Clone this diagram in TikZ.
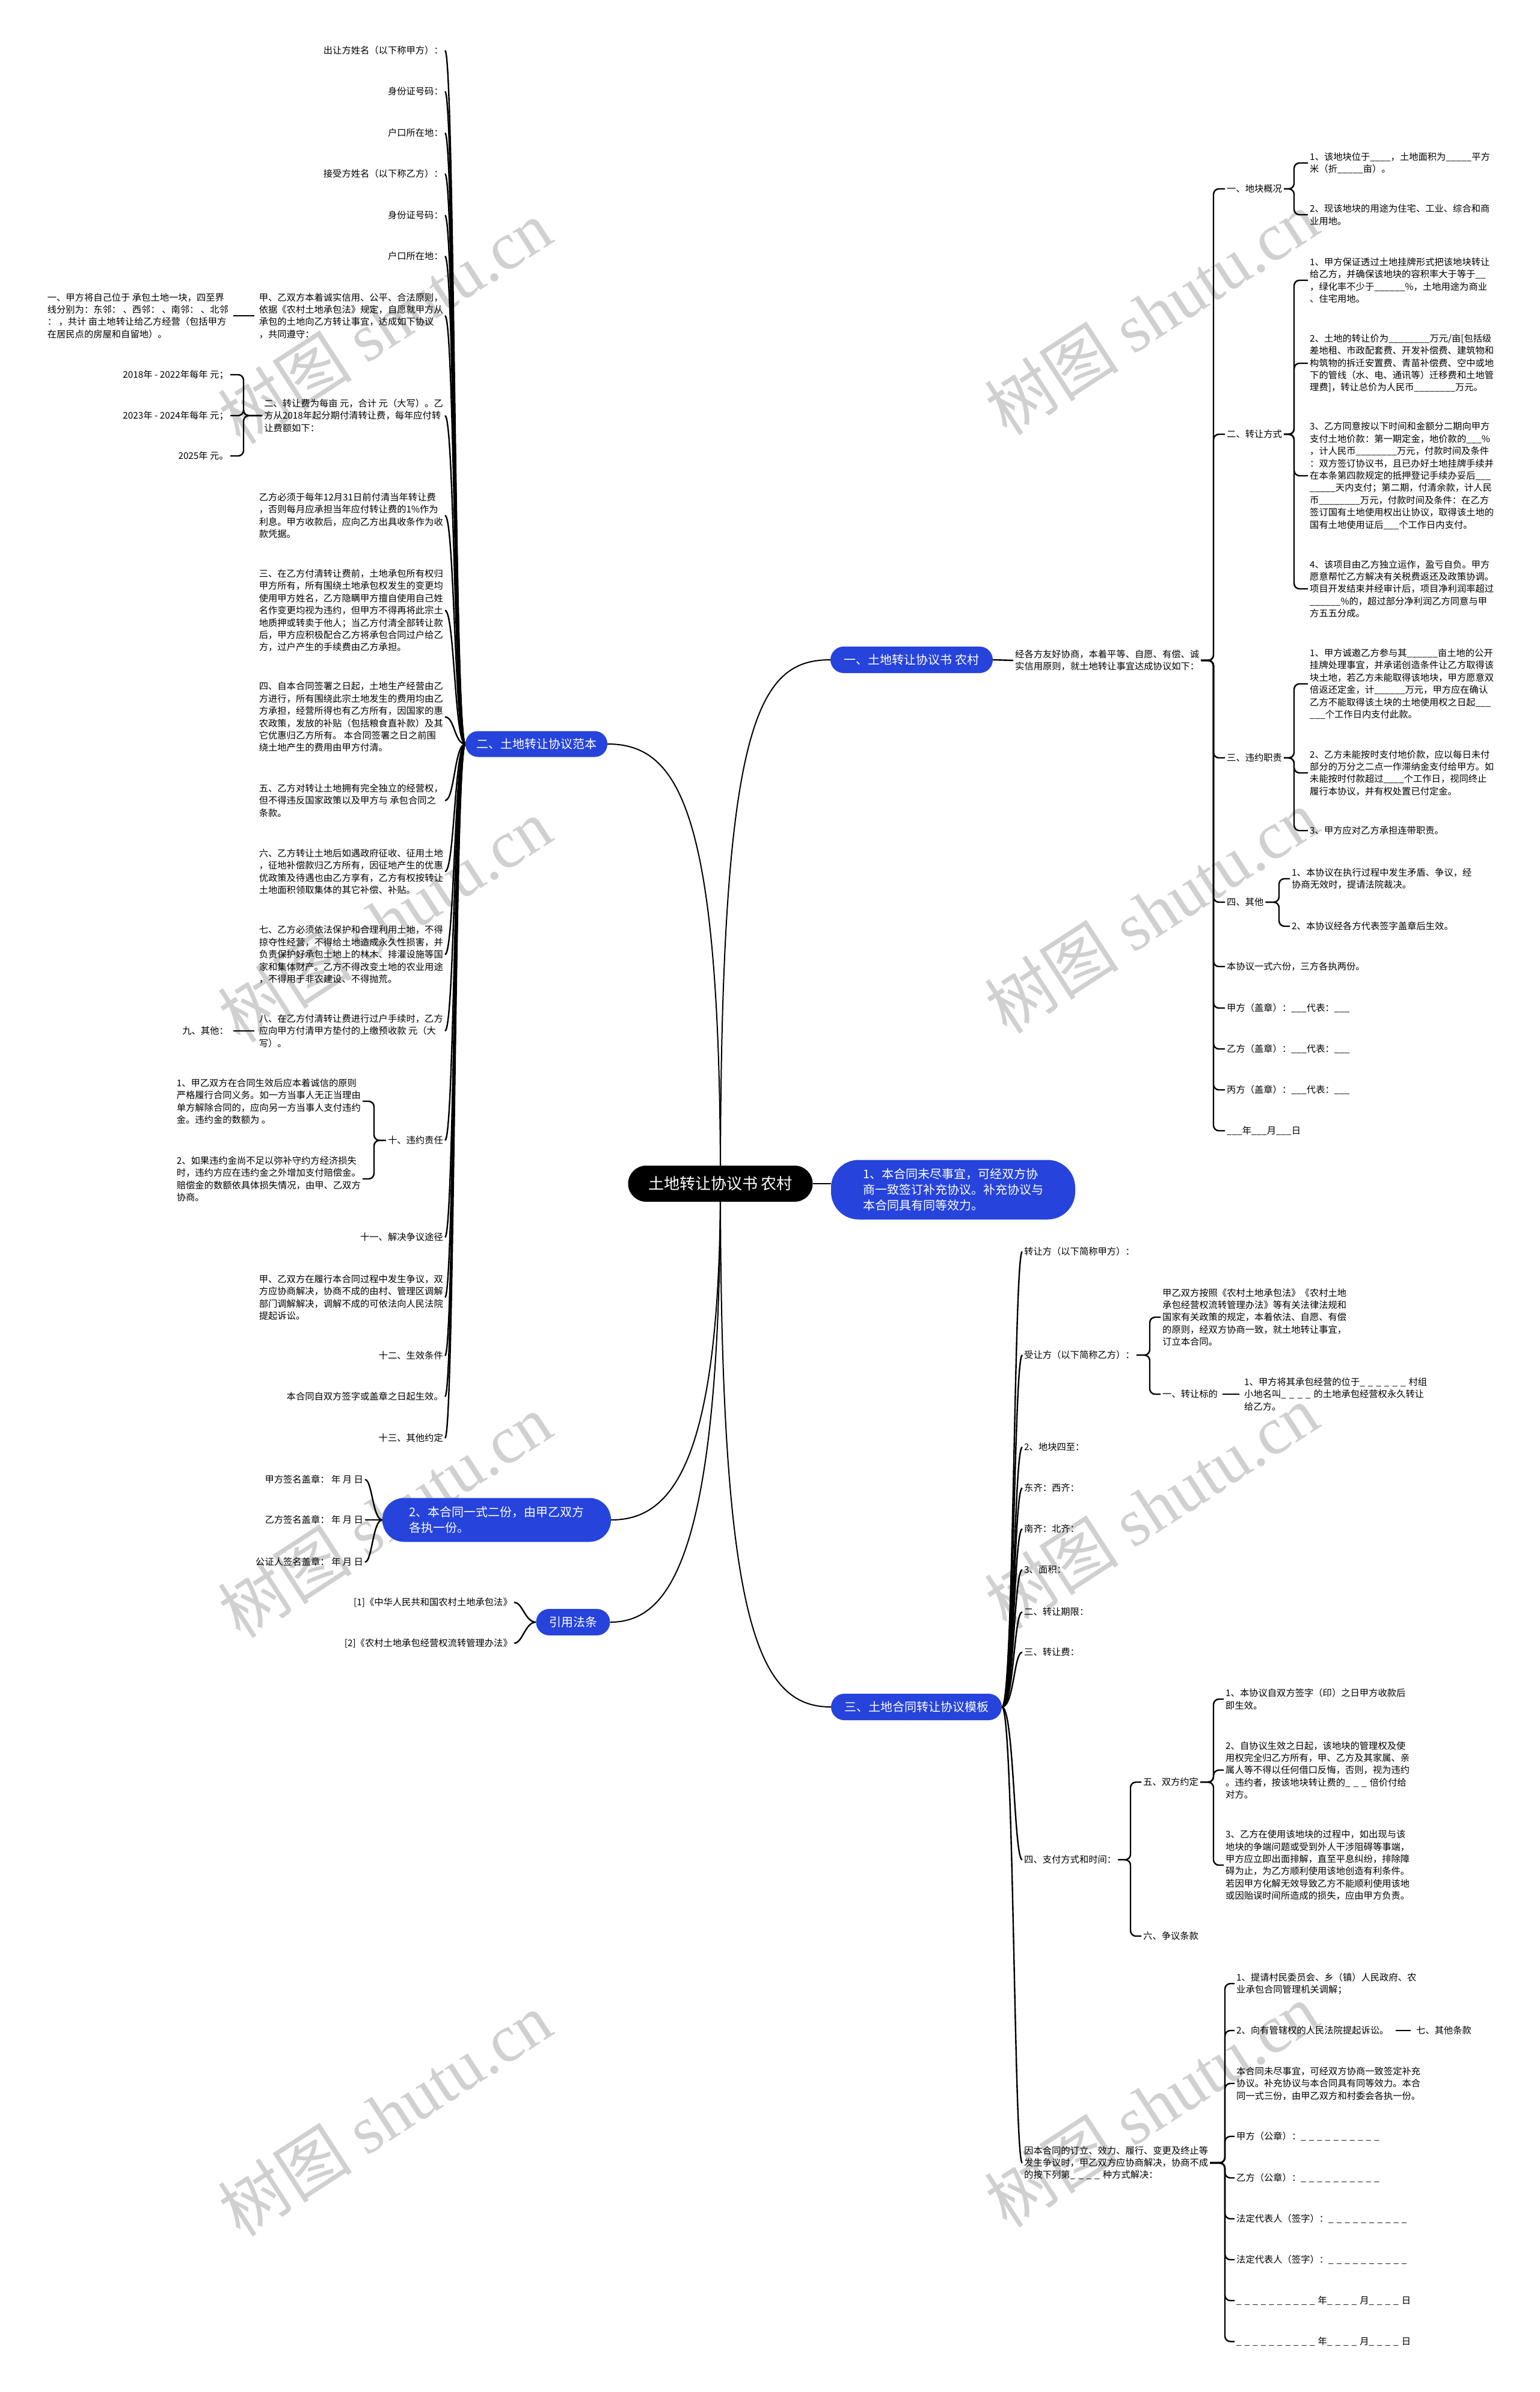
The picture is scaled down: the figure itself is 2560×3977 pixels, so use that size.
\documentclass[tikz,border=0pt]{standalone}
\usepackage{fontspec}
\setmainfont{Noto Sans CJK SC}
\newfontfamily\wmserif{Liberation Serif}
\usetikzlibrary{calc}
\definecolor{bblue}{RGB}{38,67,220}
\definecolor{wmgray}{RGB}{208,208,208}
\pgfdeclarelayer{wml}
\pgfdeclarelayer{bgl}
\pgfsetlayers{wml,bgl,main}
\newcommand\dd{\_\hspace{5pt}}
\begin{document}
\begin{tikzpicture}[x=1pt,y=-1pt,
  lnk/.style={line width=2.4pt,draw=black},
  rlnk/.style={lnk,rounded corners=9pt},
  tx/.style={font=\fontsize{15.3}{20.4}\selectfont,inner sep=3pt,align=left},
  txl/.style={tx,anchor=east},
  txr/.style={tx,anchor=west},
  bn/.style={fill=bblue,text=white,font=\fontsize{20}{26}\selectfont,align=left,inner sep=0pt},
  wm/.style={text=wmgray,rotate=33,inner sep=0pt}]
\useasboundingbox (0,0) rectangle (2560,3977);

% background and watermarks
\begin{pgfonlayer}{wml}
\fill[white] (0,0) rectangle (2560,3977);
\foreach \i/\x/\y in {1/640/535,2/1915/520,3/640/1530,4/1915/1515,5/640/2520,6/1915/2505,7/640/3515,8/1915/3500}{
  \node[wm] (wm\i) at (\x,\y) {\fontsize{112}{112}\selectfont 树图 {\wmserif shutu.cn}};
}
\end{pgfonlayer}

% main nodes
\node[bn,fill=black,font=\fontsize{26}{30}\selectfont,minimum width=307pt,minimum height=60pt,rounded corners=30pt] (root) at (1198,1968) {土地转让协议书 农村};
\node[bn,minimum width=270pt,minimum height=44pt,rounded corners=22pt] (b1) at (1516,1097) {一、土地转让协议书 农村};
\node[bn,minimum width=406pt,minimum height=99pt,rounded corners=46pt] (bm) at (1585,1978) {1、本合同未尽事宜，可经双方协\\商一致签订补充协议。补充协议与\\本合同具有同等效力。};
\node[bn,minimum width=284pt,minimum height=44pt,rounded corners=22pt] (b3) at (1524,2838) {三、土地合同转让协议模板};
\node[bn,minimum width=236pt,minimum height=43pt,rounded corners=21pt] (b2) at (892,1237) {二、土地转让协议范本};
\node[bn,minimum width=380pt,minimum height=73pt,rounded corners=36pt] (bs) at (826,2527) {2、本合同一式二份，由甲乙双方\\各执一份。};
\node[bn,minimum width=123pt,minimum height=44pt,rounded corners=22pt] (bref) at (953,2697) {引用法条};

% ---------------- left branch: 二、土地转让协议范本
\node[txl] (l1) at (740,84) {出让方姓名（以下称甲方）：};
\node[txl] (l2) at (740,152) {身份证号码：};
\node[txl] (l3) at (740,221) {户口所在地：};
\node[txl] (l4) at (740,289) {接受方姓名（以下称乙方）：};
\node[txl] (l5) at (740,358) {身份证号码：};
\node[txl] (l6) at (740,426) {户口所在地：};
\node[txl] (l7) at (740,525) {甲、乙双方本着诚实信用、公平、合法原则，\\依据《农村土地承包法》规定，自愿就甲方从\\承包的土地向乙方转让事宜，达成如下协议\\，共同遵守：};
\node[txl] (l8) at (740,691) {二、转让费为每亩 元，合计 元（大写）。乙\\方从2018年起分期付清转让费，每年应付转\\让费额如下：};
\node[txl] (l9) at (740,857) {乙方必须于每年12月31日前付清当年转让费\\，否则每月应承担当年应付转让费的1\%作为\\利息。甲方收款后，应向乙方出具收条作为收\\款凭据。};
\node[txl] (l10) at (740,1015) {三、在乙方付清转让费前，土地承包所有权归\\甲方所有，所有围绕土地承包权发生的变更均\\使用甲方姓名，乙方隐瞒甲方擅自使用自己姓\\名作变更均视为违约，但甲方不得再将此宗土\\地质押或转卖于他人；当乙方付清全部转让款\\后，甲方应积极配合乙方将承包合同过户给乙\\方，过户产生的手续费由乙方承担。};
\node[txl] (l11) at (740,1192) {四、自本合同签署之日起，土地生产经营由乙\\方进行，所有围绕此宗土地发生的费用均由乙\\方承担，经营所得也有乙方所有，因国家的惠\\农政策，发放的补贴（包括粮食直补款）及其\\它优惠归乙方所有。 本合同签署之日之前围\\绕土地产生的费用由甲方付清。};
\node[txl] (l12) at (740,1331) {五、乙方对转让土地拥有完全独立的经营权，\\但不得违反国家政策以及甲方与 承包合同之\\条款。};
\node[txl] (l13) at (740,1449) {六、乙方转让土地后如遇政府征收、征用土地\\，征地补偿款归乙方所有，因征地产生的优惠\\优政策及待遇也由乙方享有，乙方有权按转让\\土地面积领取集体的其它补偿、补贴。};
\node[txl] (l14) at (740,1587) {七、乙方必须依法保护和合理利用土地，不得\\掠夺性经营，不得给土地造成永久性损害，并\\负责保护好承包土地上的林木、排灌设施等国\\家和集体财产。乙方不得改变土地的农业用途\\，不得用于非农建设、不得抛荒。};
\node[txl] (l15) at (740,1714) {八、在乙方付清转让费进行过户手续时，乙方\\应向甲方付清甲方垫付的上缴预收款 元（大\\写）。};
\node[txl] (l16) at (740,1896) {十、违约责任};
\node[txl] (l17) at (740,2057) {十一、解决争议途径};
\node[txl] (l18) at (740,2157) {甲、乙双方在履行本合同过程中发生争议，双\\方应协商解决，协商不成的由村、管理区调解\\部门调解解决，调解不成的可依法向人民法院\\提起诉讼。};
\node[txl] (l19) at (740,2254) {十二、生效条件};
\node[txl] (l20) at (740,2322) {本合同自双方签字或盖章之日起生效。};
\node[txl] (l21) at (740,2391) {十三、其他约定};

\node[txl] (lB) at (383,525) {一、甲方将自己位于 承包土地一块，四至界\\线分别为：东邻： 、西邻： 、南邻： 、北邻\\： ，共计 亩土地转让给乙方经营（包括甲方\\在居民点的房屋和自留地）。};
\node[txl] (y1) at (383,623) {2018年 - 2022年每年 元；};
\node[txl] (y2) at (383,691) {2023年 - 2024年每年 元；};
\node[txl] (y3) at (383,758) {2025年 元。};
\node[txl] (l9b) at (383,1714) {九、其他：};
\node[txl] (K) at (603,1831) {1、甲乙双方在合同生效后应本着诚信的原则\\严格履行合同义务。如一方当事人无正当理由\\单方解除合同的，应向另一方当事人支付违约\\金。违约金的数额为 。};
\node[txl] (L) at (603,1960) {2、如果违约金尚不足以弥补守约方经济损失\\时，违约方应在违约金之外增加支付赔偿金。\\赔偿金的数额依具体损失情况，由甲、乙双方\\协商。};

\node[txl] (sg1) at (607,2460) {甲方签名盖章： 年 月 日};
\node[txl] (sg2) at (607,2527) {乙方签名盖章： 年 月 日};
\node[txl] (sg3) at (607,2597) {公证人签名盖章： 年 月 日};
\node[txl] (ref1) at (855,2664) {[1]《中华人民共和国农村土地承包法》};
\node[txl] (ref2) at (855,2732) {[2]《农村土地承包经营权流转管理办法》};

% ---------------- right top
\node[txr] (R1) at (1685,1098) {经各方友好协商，本着平等、自愿、有偿、诚\\实信用原则，就土地转让事宜达成协议如下：};
\node[txr] (rk1) at (2037,314) {一、地块概况};
\node[txr] (rk2) at (2037,722) {二、转让方式};
\node[txr] (rk3) at (2037,1260) {三、违约职责};
\node[txr] (rk4) at (2037,1500) {四、其他};
\node[txr] (rk5) at (2037,1607) {本协议一式六份，三方各执两份。};
\node[txr] (rk6) at (2037,1676) {甲方（盖章）：\_\_\_代表：\_\_\_};
\node[txr] (rk7) at (2037,1744) {乙方（盖章）：\_\_\_代表：\_\_\_};
\node[txr] (rk8) at (2037,1812) {丙方（盖章）：\_\_\_代表：\_\_\_};
\node[txr] (rk9) at (2037,1880) {\_\_\_年\_\_\_月\_\_\_日};

\node[txr] (r11) at (2175,271) {1、该地块位于\_\_\_\_，土地面积为\_\_\_\_\_平方\\米（折\_\_\_\_\_亩）。};
\node[txr] (r12) at (2175,357) {2、现该地块的用途为住宅、工业、综合和商\\业用地。};
\node[txr] (r21) at (2175,466) {1、甲方保证透过土地挂牌形式把该地块转让\\给乙方，并确保该地块的容积率大于等于\_\_\\，绿化率不少于\_\_\_\_\_\_\%，土地用途为商业\\、住宅用地。};
\node[txr] (r22) at (2175,604) {2、土地的转让价为\_\_\_\_\_\_\_\_万元/亩[包括级\\差地租、市政配套费、开发补偿费、建筑物和\\构筑物的拆迁安置费、青苗补偿费、空中或地\\下的管线（水、电、通讯等）迁移费和土地管\\理费]，转让总价为人民币\_\_\_\_\_\_\_\_万元。};
\node[txr] (r23) at (2175,791) {3、乙方同意按以下时间和金额分二期向甲方\\支付土地价款：第一期定金，地价款的\_\_\_\%\\，计人民币\_\_\_\_\_\_\_\_万元，付款时间及条件\\：双方签订协议书，且已办好土地挂牌手续并\\在本条第四款规定的抵押登记手续办妥后\_\_\_\\\_\_\_\_\_天内支付；第二期，付清余款，计人民\\币\_\_\_\_\_\_\_\_万元，付款时间及条件：在乙方\\签订国有土地使用权出让协议，取得该土地的\\国有土地使用证后\_\_\_个工作日内支付。};
\node[txr] (r24) at (2175,979) {4、该项目由乙方独立运作，盈亏自负。甲方\\愿意帮忙乙方解决有关税费返还及政策协调。\\项目开发结束并经审计后，项目净利润率超过\\\_\_\_\_\_\_\%的，超过部分净利润乙方同意与甲\\方五五分成。};
\node[txr] (r31) at (2175,1137) {1、甲方诚邀乙方参与其\_\_\_\_\_\_亩土地的公开\\挂牌处理事宜，并承诺创造条件让乙方取得该\\块土地，若乙方未能取得该地块，甲方愿意双\\倍返还定金，计\_\_\_\_\_\_万元，甲方应在确认\\乙方不能取得该土块的土地使用权之日起\_\_\_\\\_\_\_个工作日内支付此款。};
\node[txr] (r32) at (2175,1285) {2、乙方未能按时支付地价款，应以每日未付\\部分的万分之二点一作滞纳金支付给甲方。如\\未能按时付款超过\_\_\_\_个工作日，视同终止\\履行本协议，并有权处置已付定金。};
\node[txr] (r33) at (2175,1381) {3、甲方应对乙方承担连带职责。};
\node[txr] (r41) at (2145,1461) {1、本协议在执行过程中发生矛盾、争议，经\\协商无效时，提请法院裁决。};
\node[txr] (r42) at (2145,1540) {2、本协议经各方代表签字盖章后生效。};

% ---------------- right bottom
\node[txr] (c1) at (1700,2081) {转让方（以下简称甲方）：};
\node[txr] (c2) at (1700,2253) {受让方（以下简称乙方）：};
\node[txr] (c3) at (1700,2406) {2、地块四至：};
\node[txr] (c4) at (1700,2474) {东齐：西齐：};
\node[txr] (c5) at (1700,2542) {南齐：北齐：};
\node[txr] (c6) at (1700,2610) {3、面积：};
\node[txr] (c7) at (1700,2680) {二、转让期限：};
\node[txr] (c8) at (1700,2747) {三、转让费：};
\node[txr] (c9) at (1700,3092) {四、支付方式和时间：};
\node[txr] (c10) at (1700,3596) {因本合同的订立、效力、履行、变更及终止等\\发生争议时，甲乙双方应协商解决，协商不成\\的按下列第\dd\dd\dd\dd 种方式解决：};

\node[txr] (S1) at (1930,2190) {甲乙双方按照《农村土地承包法》《农村土地\\承包经营权流转管理办法》等有关法律法规和\\国家有关政策的规定，本着依法、自愿、有偿\\的原则，经双方协商一致，就土地转让事宜，\\订立本合同。};
\node[txr] (c2b) at (1930,2318) {一、转让标的};
\node[txr] (S2) at (2066,2318) {1、甲方将其承包经营的位于\dd\dd\dd\dd\dd\dd 村组\\小地名叫\dd\dd\dd\dd 的土地承包经营权永久转让\\给乙方。};

\node[txr] (w5) at (1898,2963) {五、双方约定};
\node[txr] (w6) at (1898,3219) {六、争议条款};
\node[txr] (S3) at (2035,2825) {1、本协议自双方签字（印）之日甲方收款后\\即生效。};
\node[txr] (S4) at (2035,2943) {2、自协议生效之日起，该地块的管理权及使\\用权完全归乙方所有，甲、乙方及其家属、亲\\属人等不得以任何借口反悔，否则，视为违约\\。违约者，按该地块转让费的\dd\dd\dd 倍价付给\\对方。};
\node[txr] (S5) at (2035,3101) {3、乙方在使用该地块的过程中，如出现与该\\地块的争端问题或受到外人干涉阻碍等事端，\\甲方应立即出面排解，直至平息纠纷，排除障\\碍为止，为乙方顺利使用该地创造有利条件。\\若因甲方化解无效导致乙方不能顺利使用该地\\或因贻误时间所造成的损失，应由甲方负责。};

\node[txr] (x1) at (2053,3298) {1、提请村民委员会、乡（镇）人民政府、农\\业承包合同管理机关调解；};
\node[txr] (x2) at (2053,3376) {2、向有管辖权的人民法院提起诉讼。};
\node[txr] (x2b) at (2352,3376) {七、其他条款};
\node[txr] (x3) at (2053,3464) {本合同未尽事宜，可经双方协商一致签定补充\\协议。补充协议与本合同具有同等效力。本合\\同一式三份，由甲乙双方和村委会各执一份。};
\node[txr] (x4) at (2053,3552) {甲方（公章）：\dd\dd\dd\dd\dd\dd\dd\dd\dd\dd};
\node[txr] (x5) at (2053,3621) {乙方（公章）：\dd\dd\dd\dd\dd\dd\dd\dd\dd\dd};
\node[txr] (x6) at (2053,3689) {法定代表人（签字）：\dd\dd\dd\dd\dd\dd\dd\dd\dd\dd};
\node[txr] (x7) at (2053,3757) {法定代表人（签字）：\dd\dd\dd\dd\dd\dd\dd\dd\dd\dd};
\node[txr] (x8) at (2053,3825) {\dd\dd\dd\dd\dd\dd\dd\dd\dd\dd 年\dd\dd\dd\dd 月\dd\dd\dd\dd 日};
\node[txr] (x9) at (2053,3893) {\dd\dd\dd\dd\dd\dd\dd\dd\dd\dd 年\dd\dd\dd\dd 月\dd\dd\dd\dd 日};

% junctions
\coordinate (jR1) at (2018,1098);
\coordinate (jk1) at (2152,314);
\coordinate (jk2) at (2152,722);
\coordinate (jk3) at (2152,1260);
\coordinate (jk4) at (2127,1500);
\coordinate (jc2) at (1912,2253);
\coordinate (jc9) at (1880,3092);
\coordinate (jw5) at (2018,2963);
\coordinate (jc10) at (2037,3596);
\coordinate (jl8) at (405,691);
\coordinate (jl16) at (622,1896);

% ---------------- connectors
\begin{pgfonlayer}{bgl}
\draw[line width=2pt] (root.center) .. controls (1198,1200) and (1260,1097) .. (b1.west);
\draw[line width=2pt] (root.center) .. controls (1198,1350) and (1130,1237) .. (b2.east);
\draw[line width=2pt] (root.center) .. controls (1198,2700) and (1260,2838) .. (b3.west);
\draw[line width=2pt] (root.center) .. controls (1198,2450) and (1110,2527) .. (bs.east);
\draw[line width=2pt] (root.center) .. controls (1198,2600) and (1110,2697) .. (bref.east);
\draw[line width=2pt] (root.east) -- (root.east -| bm.west);

\foreach \i in {1,...,21}{
  \draw[lnk] (b2.west) .. controls ($(b2.west)+(-18,0)$) and ($(l\i.east)+(16,0)$) .. (l\i.east);
}
\draw[lnk,shorten <=5pt,shorten >=5pt] (l7.west) -- (lB.east);
\draw[lnk,shorten <=5pt,shorten >=5pt] (l15.west) -- (l9b.east);
\foreach \n in {y1,y2,y3}{ \draw[rlnk] (l8.west) -- (jl8) |- (\n.east); }
\foreach \n in {K,L}{ \draw[rlnk] (l16.west) -- (jl16) |- (\n.east); }
\foreach \n in {sg1,sg2,sg3}{
  \draw[lnk] (bs.west) .. controls ($(bs.west)+(-16,0)$) and ($(\n.east)+(12,0)$) .. (\n.east);
}
\foreach \n in {ref1,ref2}{
  \draw[lnk] (bref.west) .. controls ($(bref.west)+(-18,0)$) and ($(\n.east)+(14,0)$) .. (\n.east);
}

\draw[lnk] (b1.east) -- (R1.west);
\foreach \i in {1,...,9}{ \draw[rlnk] (R1.east) -- (jR1) |- (rk\i.west); }
\foreach \n in {r11,r12}{ \draw[rlnk] (rk1.east) -- (jk1) |- (\n.west); }
\foreach \n in {r21,r22,r23,r24}{ \draw[rlnk] (rk2.east) -- (jk2) |- (\n.west); }
\foreach \n in {r31,r32,r33}{ \draw[rlnk] (rk3.east) -- (jk3) |- (\n.west); }
\foreach \n in {r41,r42}{ \draw[rlnk] (rk4.east) -- (jk4) |- (\n.west); }

\foreach \i in {1,...,10}{
  \draw[lnk] (b3.east) .. controls ($(b3.east)+(20,0)$) and ($(c\i.west)+(-14,0)$) .. (c\i.west);
}
\foreach \n in {S1,c2b}{ \draw[rlnk] (c2.east) -- (jc2) |- (\n.west); }
\draw[lnk,shorten <=5pt,shorten >=5pt] (c2b.east) -- (S2.west);
\foreach \n in {w5,w6}{ \draw[rlnk] (c9.east) -- (jc9) |- (\n.west); }
\foreach \n in {S3,S4,S5}{ \draw[rlnk] (w5.east) -- (jw5) |- (\n.west); }
\foreach \i in {1,...,9}{ \draw[rlnk] (c10.east) -- (jc10) |- (x\i.west); }
\draw[lnk,shorten <=8pt,shorten >=6pt] (x2.east) -- (x2b.west);
\end{pgfonlayer}
\end{tikzpicture}
\end{document}
